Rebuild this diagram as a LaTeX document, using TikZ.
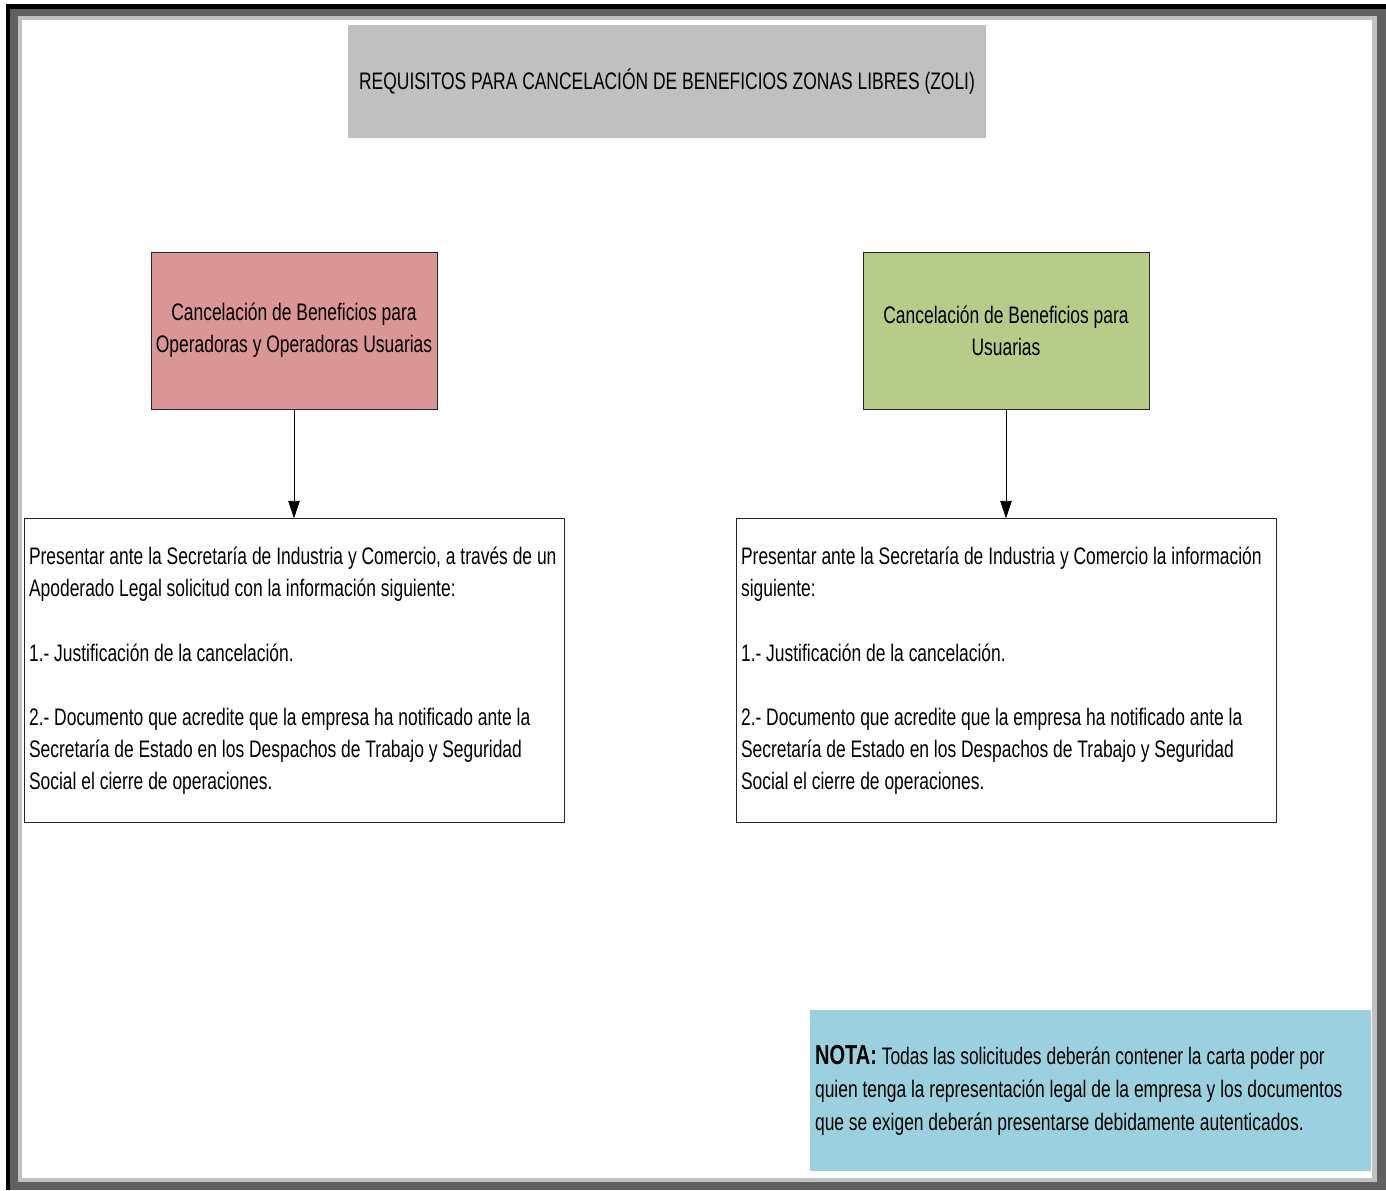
\documentclass[tikz,border=0pt]{standalone}
\usepackage{fontspec}
\setmainfont{Liberation Sans}[FakeStretch=0.73]
\usetikzlibrary{arrows.meta,positioning}
\definecolor{grisTitulo}{HTML}{C0C0C0}
\definecolor{rojoOper}{HTML}{DA9694}
\definecolor{verdeUsu}{HTML}{B7CC89}
\definecolor{azulNota}{HTML}{9BD1DE}
\definecolor{marcoOsc}{HTML}{606060}
\definecolor{marcoCla}{HTML}{C0C0C0}
\definecolor{borde}{HTML}{262626}
\newcommand{\txt}{\fontsize{13.6}{18.3}\selectfont}

\begin{document}
\begin{tikzpicture}[x=0.02cm, y=-0.02cm, >={Triangle[length=10pt, width=6.5pt]}, font=\txt, node distance=2.18cm]
  \tikzset{
    cab/.style={draw=borde, line width=0.5pt, minimum width=5.72cm, minimum height=3.14cm, align=center, inner sep=0pt},
    req/.style={draw=borde, line width=0.5pt, text width=10.6cm, inner xsep=0.1cm, inner ysep=0pt, minimum height=6.08cm, align=flush left},
    flecha/.style={->, line width=0.5pt}
  }
  \useasboundingbox (0,0) rectangle (1386,1190);
  % frame
  \fill[black] (6,4) rectangle (1386,1190);
  \fill[marcoOsc] (10,9) rectangle (1386,1190);
  \fill[marcoCla] (18,16) rectangle (1377,1182);
  \fill[white] (22,20) rectangle (1372,1178);
  % title
  \node[fill=grisTitulo, minimum width=12.76cm, minimum height=2.26cm, inner sep=0pt] (tit) at (667,81.5)
    {REQUISITOS PARA CANCELACIÓN DE BENEFICIOS ZONAS LIBRES (ZOLI)};
  % headers
  \node[cab, fill=rojoOper] (oper) at (294,330.5) {Cancelación de Beneficios para\\Operadoras y Operadoras Usuarias};
  \node[cab, fill=verdeUsu] (usu) at (1006,330.5) {Cancelación de Beneficios para\\Usuarias};
  % requirements
  \node[req, below=of oper] (reqOper) {Presentar ante la Secretaría de Industria y Comercio, a través de un\\
    Apoderado Legal solicitud con la información siguiente:\\ ~\\
    1.- Justificación de la cancelación.\\ ~\\
    2.- Documento que acredite que la empresa ha notificado ante la\\
    Secretaría de Estado en los Despachos de Trabajo y Seguridad\\
    Social el cierre de operaciones.};
  \node[req, below=of usu] (reqUsu) {Presentar ante la Secretaría de Industria y Comercio la información\\
    siguiente:\\ ~\\
    1.- Justificación de la cancelación.\\ ~\\
    2.- Documento que acredite que la empresa ha notificado ante la\\
    Secretaría de Estado en los Despachos de Trabajo y Seguridad\\
    Social el cierre de operaciones.};
  \draw[flecha] (oper) -- (reqOper);
  \draw[flecha] (usu) -- (reqUsu);
  % note
  \node[fill=azulNota, text width=11.02cm, inner xsep=0.1cm, inner ysep=0pt, minimum height=3.22cm, align=flush left,
        font=\fontsize{13.6}{18.8}\selectfont] (nota) at (1090.5,1090.5)
    {{\fontsize{15.6}{18.8}\selectfont\bfseries NOTA:} Todas las solicitudes deberán contener la carta poder por\\
    quien tenga la representación legal de la empresa y los documentos\\
    que se exigen deberán presentarse debidamente autenticados.};
\end{tikzpicture}
\end{document}
